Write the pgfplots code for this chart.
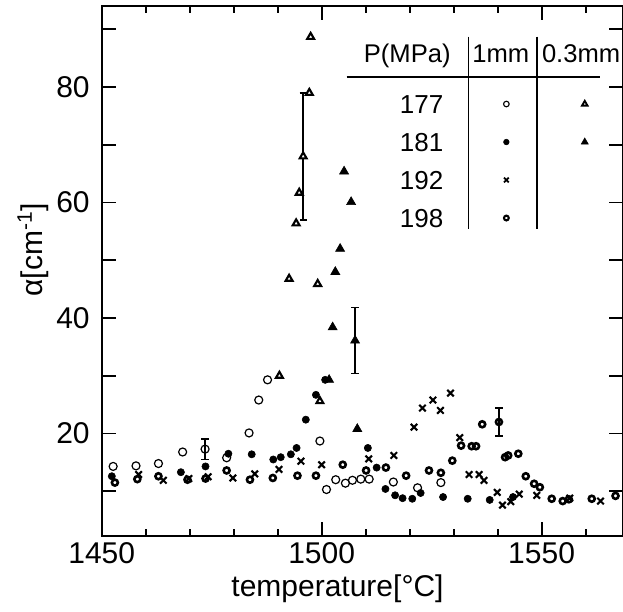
\documentclass[border=0pt]{standalone}
\usepackage{fontspec}
\setmainfont{Liberation Sans}
\usepackage{pgfplots}
\pgfplotsset{compat=1.18}
\tikzset{
  mA/.style={mark=o, mark size=2.0pt, mark options={line width=0.6pt, solid, draw=black, fill=white}},
  mB/.style={mark=*, mark size=1.8pt, mark options={line width=0.3pt, solid, draw=black, fill=black}},
  mC/.style={mark=x, mark size=2.3pt, mark options={line width=1.05pt, solid, draw=black}},
  mD/.style={mark=o, mark size=1.5pt, mark options={line width=1.3pt, solid, draw=black, fill=white}},
  mE/.style={mark=triangle*, mark size=2.0pt, mark options={line width=1.05pt, solid, draw=black, fill=white}},
  mF/.style={mark=triangle*, mark size=2.6pt, mark options={line width=0.3pt, solid, draw=black, fill=black}},
}
\begin{document}
\begin{tikzpicture}
\begin{axis}[
  at={(50.85pt,38pt)}, anchor=south west,
  scale only axis, width=260.65pt, height=265pt,
  xmin=1450, xmax=1568.5, ymin=2.25, ymax=94.05,
  axis line style={line width=1pt},
  every tick/.style={line width=0.9pt, black},
  tick align=inside, tick pos=both,
  major tick length=7pt, minor tick length=3.5pt,
  xtick={1450,1500,1550}, xticklabels={1450,1500,1550},
  minor xtick={1460,1470,1480,1490,1510,1520,1530,1540,1560},
  ytick={10,20,30,40,50,60,70,80,90},
  yticklabels={,20,,40,,60,,80,},
  tick label style={font=\fontsize{15}{17}\selectfont},
  yticklabel style={xshift=-2.5pt},
  xticklabel style={yshift=0.5pt},
  xlabel={temperature[°C]},
  xlabel style={at={(axis description cs:0.4523,-0.1151)}, anchor=base, inner sep=0pt, font=\fontsize{15}{17}\selectfont},
  ylabel={α[cm\textsuperscript{-1}]},
  ylabel style={at={(axis description cs:-0.1318,0.54)}, anchor=center, inner sep=0pt, font=\fontsize{15}{17}\selectfont},
  legend plot pos=right, legend cell align=right,
  legend style={draw=none, fill=none, inner sep=0pt, outer sep=0pt,
    at={(axis description cs:0.5722,0.8377)}, anchor=north west,
    row sep=7pt, column sep=0pt,
    nodes={inner sep=0pt, outer sep=0pt, text height=10.6pt, text depth=1.4pt, font=\fontsize{13}{14}\selectfont}},
]
% 177 MPa, 1 mm (thin open circle)
\addplot[only marks, mA, forget plot] coordinates {
(1452.6,14.3) (1457.8,14.4) (1462.9,14.8) (1468.4,16.8) (1478.4,15.8) (1483.5,20.1)
(1485.7,25.8) (1487.7,29.3) (1499.6,18.7) (1501.1,10.3) (1503.2,12.0) (1505.4,11.4)
(1507.0,11.9) (1508.9,12.1) (1510.8,12.1) (1516.3,11.6) (1521.8,10.6) (1527.1,11.5)
};
% 181 MPa, 1 mm (filled circle)
\addplot[only marks, mB, forget plot] coordinates {
(1452.3,12.6) (1468.0,13.3) (1473.6,14.3) (1478.8,16.5) (1484.1,16.4) (1489.0,15.5)
(1490.7,15.9) (1493.0,16.4) (1494.3,17.5) (1496.4,22.4) (1498.7,26.7) (1500.8,29.3)
(1510.5,17.5) (1512.5,14.1) (1514.5,10.4) (1516.7,9.3) (1518.4,8.8) (1520.6,8.7)
(1522.5,9.7) (1527.6,9.0) (1533.2,8.7) (1538.2,8.5) (1543.5,9.0)
};
% 192 MPa, 1 mm (cross)
\addplot[only marks, mC, forget plot] coordinates {
(1458.4,12.9) (1464.0,11.9) (1469.8,12.2) (1474.2,12.5) (1479.8,12.3) (1484.8,13.0)
(1490.3,13.8) (1495.3,15.2) (1500.0,14.6) (1510.7,15.6) (1516.4,16.2) (1521.0,21.1)
(1522.9,24.4) (1525.3,25.8) (1527.0,24.0) (1529.3,27.0) (1531.4,19.3) (1533.5,12.9)
(1535.8,12.9) (1536.9,11.9) (1539.9,9.8) (1541.1,7.6) (1543.0,8.2) (1544.9,9.5)
(1548.9,9.3) (1556.4,8.8) (1563.4,8.3)
};
% 198 MPa, 1 mm (bold circle)
\addplot[only marks, mD, forget plot] coordinates {
(1453.0,11.5) (1458.1,12.1) (1462.9,12.6) (1469.5,12.0) (1473.6,12.2) (1478.4,13.6)
(1483.7,12.0) (1488.9,12.3) (1494.5,12.7) (1498.7,12.7) (1504.8,14.6) (1510.1,13.6)
(1514.6,14.1) (1519.2,12.7) (1524.4,13.6) (1527.1,13.2) (1529.7,15.3) (1531.7,17.9)
(1534.1,17.8) (1535.1,17.8) (1536.5,21.6) (1541.7,15.9) (1542.4,16.2) (1544.7,16.5)
(1546.4,12.6) (1548.3,11.3) (1549.6,10.7) (1552.3,8.7) (1554.8,8.3) (1556.2,8.6)
(1561.4,8.7) (1566.8,9.2)
};
% 177 MPa, 0.3 mm (open triangle)
\addplot[only marks, mE, forget plot] coordinates {
(1490.4,30.0) (1492.6,46.8) (1494.2,56.4) (1494.9,61.7) (1497.2,79.0) (1497.5,88.7)
(1499.1,45.9) (1499.6,25.6)
};
% 181 MPa, 0.3 mm (filled triangle)
\addplot[only marks, mF, forget plot] coordinates {
(1501.7,29.3) (1502.5,38.4) (1503.1,48.0) (1504.2,52.0) (1505.1,65.4) (1506.7,60.1)
(1508.1,20.8)
};
% points with error bars
\addplot[only marks, mA, forget plot, error bars/.cd, y dir=both, y explicit,
  error bar style={line width=0.8pt, black}, error mark options={rotate=90, mark size=1.8pt, line width=0.8pt, black}]
  coordinates {(1473.5,17.3) +- (0,1.8)};
\addplot[only marks, mE, forget plot, error bars/.cd, y dir=both, y explicit,
  error bar style={line width=0.8pt, black}, error mark options={rotate=90, mark size=1.8pt, line width=0.8pt, black}]
  coordinates {(1495.8,68.0) +- (0,11.0)};
\addplot[only marks, mF, forget plot, error bars/.cd, y dir=both, y explicit,
  error bar style={line width=0.8pt, black}, error mark options={rotate=90, mark size=1.8pt, line width=0.8pt, black}]
  coordinates {(1507.6,36.1) +- (0,5.7)};
\addplot[only marks, mD, forget plot, error bars/.cd, y dir=both, y explicit,
  error bar style={line width=0.8pt, black}, error mark options={rotate=90, mark size=1.8pt, line width=0.8pt, black}]
  coordinates {(1540.3,22.0) +- (0,2.45)};
% legend rows
\addlegendimage{legend image code/.code={\path (0pt,0pt);
  \draw plot[only marks, mark=o, mark size=1.4pt, mark options={line width=0.55pt, fill=white}] coordinates {(31.3pt,0pt)};
  \draw plot[only marks, mark=triangle*, mark size=1.6pt, mark options={line width=0.9pt, fill=white}] coordinates {(70.5pt,0pt)};}}
\addlegendentry{177}
\addlegendimage{legend image code/.code={\path (0pt,0pt);
  \draw plot[only marks, mark=*, mark size=1.4pt, mark options={line width=0.3pt, fill=black}] coordinates {(31.3pt,0pt)};
  \draw plot[only marks, mark=triangle*, mark size=2.0pt, mark options={line width=0.3pt, fill=black}] coordinates {(70.5pt,0pt)};}}
\addlegendentry{181}
\addlegendimage{legend image code/.code={\path (0pt,0pt);
  \draw plot[only marks, mark=x, mark size=1.7pt, mark options={line width=0.95pt}] coordinates {(31.3pt,0pt)};}}
\addlegendentry{192}
\addlegendimage{legend image code/.code={\path (0pt,0pt);
  \draw plot[only marks, mark=o, mark size=1.2pt, mark options={line width=1.05pt, fill=white}] coordinates {(31.3pt,0pt)};}}
\addlegendentry{198}
\end{axis}
% legend table header and rules
\node[anchor=base east, inner sep=0pt, font=\fontsize{12.8}{15}\selectfont] at (225.5pt,274.65pt) {P(MPa)};
\node[anchor=base west, inner sep=0pt, font=\fontsize{12.8}{15}\selectfont] at (236pt,274.65pt) {1mm};
\node[anchor=base west, inner sep=0pt, font=\fontsize{12.8}{15}\selectfont] at (270.8pt,274.65pt) {0.3mm};
\draw[line width=0.9pt] (173.35pt,267.35pt) -- (300pt,267.35pt);
\draw[line width=0.8pt] (234.15pt,287.65pt) -- (234.15pt,191.5pt);
\draw[line width=0.8pt] (268.35pt,287.65pt) -- (268.35pt,191.5pt);
\pgfresetboundingbox
\path (0pt,0pt) rectangle (311.5pt,306pt);
\end{tikzpicture}
\end{document}
